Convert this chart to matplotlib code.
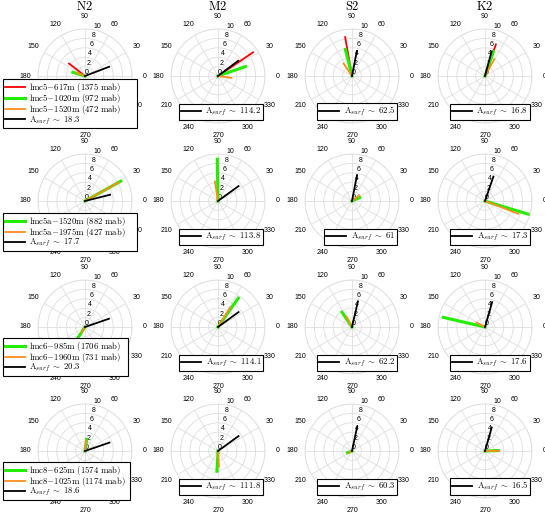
import numpy as np
import matplotlib
matplotlib.use('Agg')
import matplotlib.pyplot as plt
from matplotlib.patches import Rectangle

plt.rcParams['mathtext.fontset'] = 'cm'
plt.rcParams['font.family'] = ['Liberation Sans', 'DejaVu Sans']

# constituents (columns)
constituents = ['N2', 'M2', 'S2', 'K2']

# legend labels of the moored records, one list per row
labels_r1 = ['lmc5{-}617m\\ (1375\\ mab)', 'lmc5{-}1020m\\ (972\\ mab)', 'lmc5{-}1520m\\ (472\\ mab)']
labels_r2 = ['lmc5a{-}1520m\\ (882\\ mab)', 'lmc5a{-}1975m\\ (427\\ mab)']
labels_r3 = ['lmc6{-}985m\\ (1706\\ mab)', 'lmc6{-}1960m\\ (731\\ mab)']
labels_r4 = ['lmc8{-}625m\\ (1574\\ mab)', 'lmc8{-}1025m\\ (1174\\ mab)']

colors_r1 = ['#ff0000', '#22ee00', '#ff8c1a']
colors_r2 = ['#22ee00', '#ff8c1a']

# surface amplitude quoted in the legends (rows x constituents)
a_surf = [[18.3, 114.2, 62.5, 16.8],
          [17.7, 113.8, 61, 17.3],
          [20.3, 114.1, 62.2, 17.6],
          [18.6, 111.8, 60.3, 16.5]]

# amplitude / phase (deg) of each record, last entry = surface (black)
amp_r1 = [[4.3, 2.7, 1.8, 5.5], [9.0, 6.2, 2.9, 5.4], [8.4, 5.8, 3.2, 5.4], [7.1, 5.5, 4.1, 5.4]]
pha_r1 = [[142, 163, 158, 21], [34, 19, 352, 37], [100, 104, 124, 79], [71, 71, 61, 75]]
amp_r2 = [[8.7, 8.2, 5.5], [8.9, 4.2, 5.4], [1.8, 1.9, 5.6], [10.0, 7.6, 5.5]]
pha_r2 = [[29, 29, 14], [91, 99, 36], [24, 39, 79], [343, 339, 71]]
amp_r3 = [[3.5, 1.4, 5.4], [7.5, 5.0, 5.4], [3.8, 2.5, 5.6], [9.1, 2.0, 5.5]]
pha_r3 = [[237, 240, 19], [55, 58, 36], [124, 118, 77], [167, 152, 74]]
amp_r4 = [[2.5, 2.2, 5.5], [4.3, 3.3, 5.4], [1.0, 0.7, 5.3], [2.8, 3.0, 5.2]]
pha_r4 = [[82, 85, 19], [267, 274, 36], [201, 210, 78], [2, 1, 74]]

rows = [(labels_r1, colors_r1, amp_r1, pha_r1),
        (labels_r2, colors_r2, amp_r2, pha_r2),
        (labels_r3, colors_r2, amp_r3, pha_r3),
        (labels_r4, colors_r2, amp_r4, pha_r4)]

W, H = 545, 514
fig = plt.figure(figsize=(W / 100, H / 100), dpi=100)

cx = [85, 218, 352, 485]
cy = [76, 201, 327, 451]
R = 47
legend_top = [79, 213, 338, 462]
legend_right = [137, 137, 128, 130]   # the left legends have spare room on the right
theta_ticks = list(range(0, 360, 30))

left_legends = []
for i, (labels, colors, amp, pha) in enumerate(rows):
    for j in range(4):
        ax = fig.add_axes([(cx[j] - R) / W, 1 - (cy[i] + R) / H, 2 * R / W, 2 * R / H],
                          projection='polar')
        ax.set_ylim(0, 10)
        ax.set_yticks([0, 2, 4, 6, 8, 10])
        ax.set_yticklabels(['0', '2', '4', '6', '8', '10'])
        ax.set_rlabel_position(80)
        ax.set_thetagrids(theta_ticks, [str(t) for t in theta_ticks])
        ax.tick_params(labelsize=5, colors='black')
        ax.tick_params(axis='x', pad=-1.5)
        ax.grid(color='#dedede', lw=0.6)
        ax.spines['polar'].set_color('#dedede')
        ax.spines['polar'].set_linewidth(0.6)

        lines = []
        for k, c in enumerate(colors):
            lw = 2.2 if c == '#22ee00' else 1.3
            ln, = ax.plot([0, np.deg2rad(pha[j][k])], [0, amp[j][k]], color=c, lw=lw,
                          label='$\\mathrm{' + labels[k] + '}$')
            lines.append(ln)
        ln, = ax.plot([0, np.deg2rad(pha[j][-1])], [0, amp[j][-1]], color='black', lw=1.3,
                      label='$\\mathrm{A}_{surf}\\ \\sim\\ ' + str(a_surf[i][j]) + '$')
        lines.append(ln)

        lkw = dict(fontsize=6.3, frameon=True, fancybox=False, framealpha=1,
                   edgecolor='black', borderpad=0.2, labelspacing=-0.2,
                   handlelength=2.3, handletextpad=0.5, borderaxespad=0,
                   bbox_transform=fig.transFigure)
        if j == 0:
            leg = ax.legend(handles=lines, loc='upper left',
                            bbox_to_anchor=(3 / W, 1 - legend_top[i] / H), **lkw)
            left_legends.append((ax, leg, legend_right[i]))
        else:
            leg = ax.legend(handles=[lines[-1]], loc='lower right',
                            bbox_to_anchor=((cx[j] + 45) / W, 1 - (cy[i] + 44) / H), **lkw)
        leg.get_frame().set_linewidth(0.8)
        leg.set_zorder(10)

for j, name in enumerate(constituents):
    fig.text(cx[j] / W, 1 - 7 / H, '$\\mathrm{' + name + '}$', ha='center', va='center',
             fontsize=9)

# widen the frames of the left legends
fig.canvas.draw()
for ax, leg, right in left_legends:
    bb = leg.get_window_extent()
    leg.get_frame().set_visible(False)
    box = Rectangle((bb.x0 / W, bb.y0 / H), right / W - bb.x0 / W, bb.height / H,
                    transform=fig.transFigure, facecolor='white', edgecolor='black',
                    lw=0.8, clip_on=False, zorder=9)
    ax.add_artist(box)

fig.savefig('out.png', dpi=100)
